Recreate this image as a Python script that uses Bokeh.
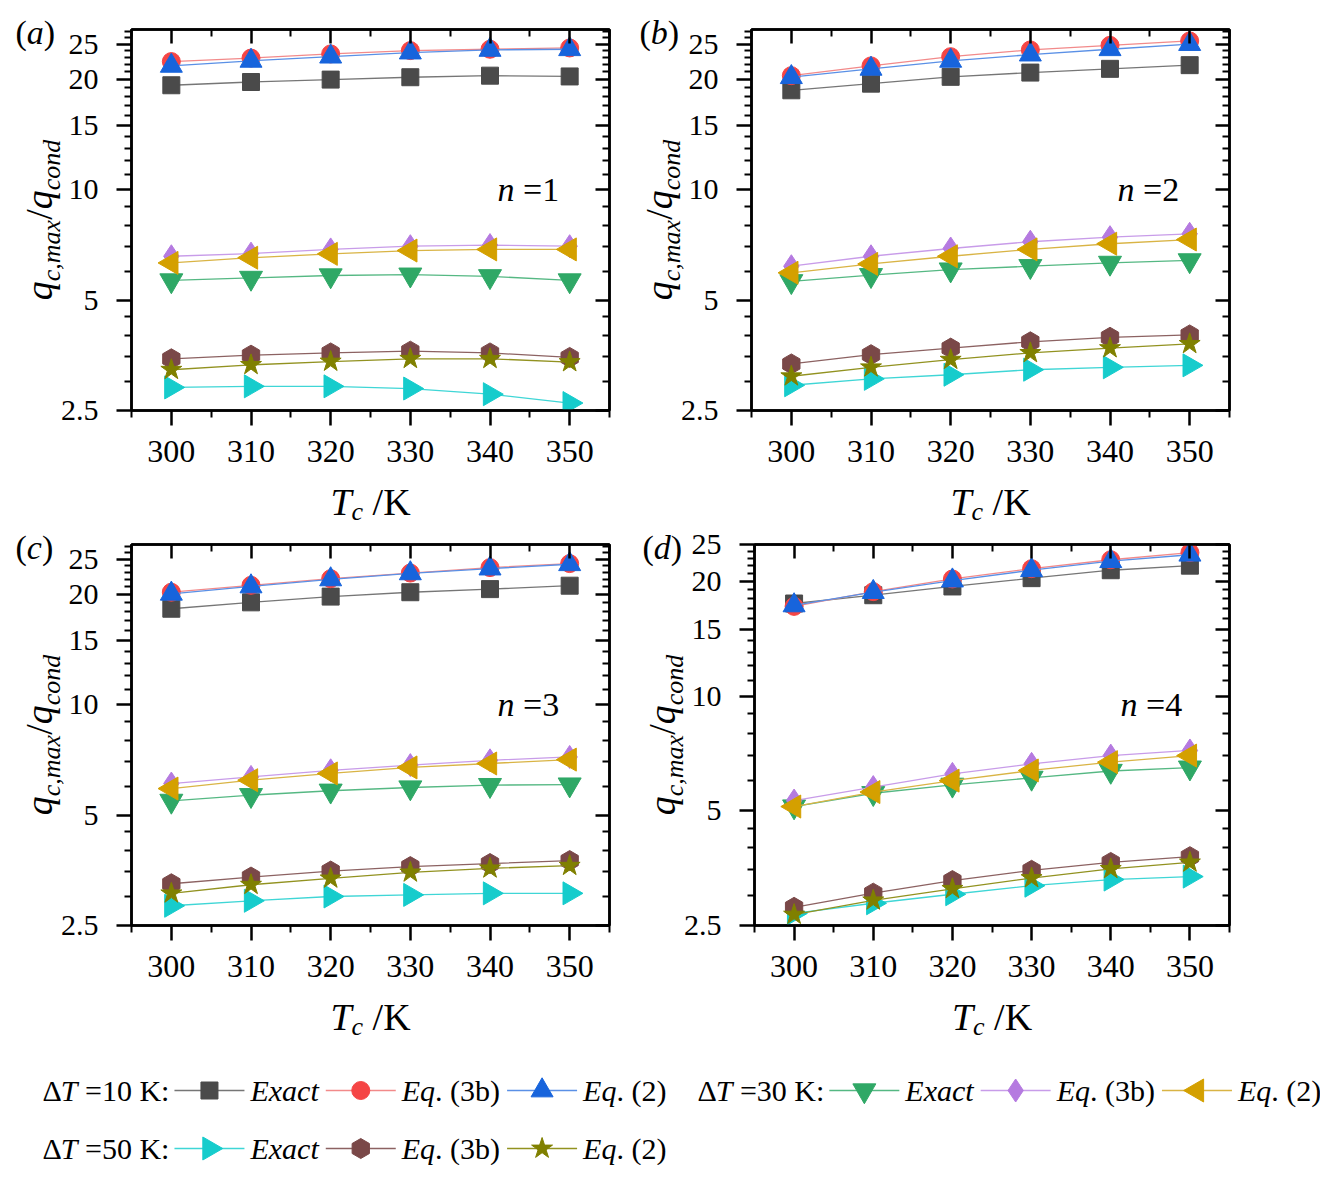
import math
from bokeh.plotting import figure
from bokeh.models import (Range1d, FixedTicker, LinearAxis, LogAxis,
                          NumeralTickFormatter, CustomJSTickFormatter)
from bokeh.layouts import column, row
from bokeh.embed import file_html
from bokeh.resources import INLINE
from bokeh.core.properties import value

# ---------------- data ----------------
Tc = [300, 310, 320, 330, 340, 350]
x_minor = [295, 305, 315, 325, 335, 345, 355]
y_major = [2.5, 5, 10, 15, 20, 25]
y_minor = [3, 3.5, 4, 4.5, 6, 7, 8, 9, 11, 12, 13, 14, 16, 17, 18, 19,
           21, 22, 23, 24, 26, 27]

# (a) n = 1
a_exact10 = [19.3, 19.7, 20.0, 20.3, 20.5, 20.4]
a_eq3b10 = [22.4, 22.9, 23.5, 24.0, 24.2, 24.4]
a_eq2_10 = [21.8, 22.5, 23.1, 23.7, 24.1, 24.2]
a_exact30 = [5.66, 5.75, 5.84, 5.87, 5.81, 5.66]
a_eq3b30 = [6.59, 6.70, 6.88, 7.02, 7.07, 7.02]
a_eq2_30 = [6.32, 6.53, 6.69, 6.83, 6.88, 6.88]
a_exact50 = [2.89, 2.91, 2.91, 2.87, 2.77, 2.62]
a_eq3b50 = [3.46, 3.54, 3.59, 3.63, 3.59, 3.49]
a_eq2_50 = [3.23, 3.33, 3.40, 3.46, 3.46, 3.39]

# (b) n = 2
b_exact10 = [18.7, 19.5, 20.35, 20.9, 21.4, 21.9]
b_eq3b10 = [20.5, 21.8, 23.1, 24.1, 24.8, 25.5]
b_eq2_10 = [20.3, 21.4, 22.5, 23.4, 24.2, 25.0]
b_exact30 = [5.63, 5.85, 6.06, 6.19, 6.32, 6.42]
b_eq3b30 = [6.19, 6.59, 6.92, 7.22, 7.43, 7.59]
b_eq2_30 = [5.94, 6.28, 6.59, 6.88, 7.13, 7.32]
b_exact50 = [2.93, 3.05, 3.13, 3.23, 3.28, 3.32]
b_eq3b50 = [3.35, 3.55, 3.70, 3.85, 3.96, 4.02]
b_eq2_50 = [3.10, 3.28, 3.44, 3.59, 3.70, 3.80]

# (c) n = 3
c_exact10 = [18.3, 19.05, 19.75, 20.3, 20.7, 21.15]
c_eq3b10 = [20.3, 21.2, 22.1, 22.9, 23.7, 24.3]
c_eq2_10 = [20.1, 21.05, 22.0, 22.85, 23.55, 24.2]
c_exact30 = [5.47, 5.67, 5.83, 5.95, 6.04, 6.06]
c_eq3b30 = [6.10, 6.36, 6.63, 6.85, 7.06, 7.21]
c_eq2_30 = [5.91, 6.23, 6.50, 6.75, 6.92, 7.09]
c_exact50 = [2.83, 2.92, 3.00, 3.03, 3.06, 3.06]
c_eq3b50 = [3.25, 3.39, 3.52, 3.62, 3.69, 3.76]
c_eq2_50 = [3.06, 3.23, 3.36, 3.49, 3.58, 3.64]

# (d) n = 4
d_exact10 = [17.5, 18.4, 19.4, 20.4, 21.4, 22.0]
d_eq3b10 = [17.2, 18.8, 20.3, 21.6, 22.8, 23.8]
d_eq2_10 = [17.3, 18.75, 20.1, 21.4, 22.6, 23.5]
d_exact30 = [5.13, 5.56, 5.85, 6.10, 6.36, 6.49]
d_eq3b30 = [5.32, 5.77, 6.25, 6.64, 6.98, 7.20]
d_eq2_30 = [5.13, 5.60, 6.00, 6.38, 6.71, 6.98]
d_exact50 = [2.69, 2.86, 3.02, 3.18, 3.30, 3.36]
d_eq3b50 = [2.79, 3.04, 3.28, 3.49, 3.66, 3.79]
d_eq2_50 = [2.67, 2.91, 3.12, 3.33, 3.52, 3.66]

panel_letters = ["a", "b", "c", "d"]
panel_n = ["1", "2", "3", "4"]
panel_ytop = [27.4, 27.4, 27.4, 25.0]
delta_T = ["10", "30", "50"]
X_LO, X_HI, Y_LO = 295, 355, 2.5

# ---------------- styles ----------------
FONT = "Liberation Serif"
STYLE = [
    dict(marker="square", size=17, angle=0.0, fill="#4a4a4a", line="#767676"),
    dict(marker="circle", size=18, angle=0.0, fill="#f54545", line="#f28a8a"),
    dict(marker="triangle", size=22, angle=0.0, fill="#1764dc", line="#5a90e6"),
    dict(marker="inverted_triangle", size=23, angle=0.0, fill="#2fa866", line="#55b883"),
    dict(marker="diamond", size=23, angle=0.0, fill="#b57ae0", line="#c89ce9"),
    dict(marker="triangle", size=23, angle=math.pi / 2, fill="#d4a000", line="#d9b445"),
    dict(marker="triangle", size=23, angle=-math.pi / 2, fill="#16cccc", line="#3fd6d6"),
    dict(marker="hex", size=20, angle=math.pi / 2, fill="#7a4848", line="#8c6262"),
    dict(marker="star", size=22, angle=0.0, fill="#808000", line="#929220"),
]

W_REG = {' ': 0.25, '(': 0.333, ')': 0.333, ',': 0.25, '.': 0.25, '/': 0.278,
         ':': 0.278, '=': 0.564, 'K': 0.722, 'b': 0.5, 'Δ': 0.612}
W_IT = {'q': 0.5, 'c': 0.444, ',': 0.25, 'm': 0.722, 'a': 0.5, 'x': 0.444,
        'o': 0.5, 'n': 0.5, 'd': 0.5, 'T': 0.556, 'E': 0.611, 't': 0.278,
        'b': 0.5, ' ': 0.25}
MID = 0.3375  # em-box middle above the baseline


def piece_width(txt, italic, size):
    table = W_IT if italic else W_REG
    return sum(table.get(ch, 0.5) for ch in txt) * size


def rich_width(pieces):
    return sum(piece_width(t, it, s) for t, it, s, _ in pieces)


def add_rich(p, pieces, bx, by, to_data, rotated=False):
    """bx, by: baseline start in screen px relative to the frame's
    bottom-left corner (x to the right, y up)."""
    pos = 0.0
    for txt, italic, size, shift in pieces:
        lead = len(txt) - len(txt.lstrip(' '))
        trail = len(txt) - len(txt.rstrip(' '))
        pos += piece_width(' ' * lead, italic, size)
        body = txt.strip(' ')
        if not rotated:
            sx, sy = bx + pos, by + MID * size - shift
        else:
            sx, sy = bx - MID * size + shift, by + pos
        dx, dy = to_data(sx, sy)
        p.text(x=[dx], y=[dy], text=[body], angle=math.pi / 2 if rotated else 0.0,
               text_font=value(FONT),
               text_font_style=value("italic" if italic else "normal"),
               text_font_size=value(f"{size}px"), text_color="black",
               text_align=value("left"), text_baseline=value("middle"),
               level="overlay")
        pos += piece_width(body, italic, size) + piece_width(' ' * trail, italic, size)


def style_axis(ax, outward, label_size=None):
    ax.axis_line_width = 2.5
    ax.axis_line_color = "black"
    ax.major_tick_line_width = 2.5
    ax.minor_tick_line_width = 2
    ax.major_tick_line_color = "black"
    ax.minor_tick_line_color = "black"
    if outward:
        ax.major_tick_out, ax.major_tick_in = 15, 0
        ax.minor_tick_out, ax.minor_tick_in = 7, 0
        ax.major_label_text_font = FONT
        ax.major_label_text_font_size = label_size
        ax.major_label_text_color = "black"
    else:
        ax.major_tick_out, ax.major_tick_in = 0, 14
        ax.minor_tick_out, ax.minor_tick_in = 0, 7
        ax.major_label_standoff = 0
        ax.major_label_text_font_size = "1px"


FRAME_H = 381


def make_panel(idx, series, border_left, frame_w, border_right, border_top, height, n_dy):
    ytop = panel_ytop[idx]
    p = figure(width=border_left + frame_w + border_right, height=height,
               x_range=Range1d(X_LO, X_HI), y_range=Range1d(Y_LO, ytop),
               y_axis_type="log", output_backend="svg", toolbar_location=None,
               min_border_left=border_left, min_border_right=border_right,
               min_border_top=border_top,
               min_border_bottom=height - border_top - FRAME_H)
    p.xgrid.visible = False
    p.ygrid.visible = False
    p.outline_line_color = "black"
    p.outline_line_width = 2.5
    p.background_fill_color = "white"
    p.border_fill_color = "white"

    ymin = [v for v in y_minor if v <= ytop]
    p.xaxis.ticker = FixedTicker(ticks=Tc, minor_ticks=x_minor)
    p.yaxis.ticker = FixedTicker(ticks=y_major, minor_ticks=ymin)
    p.yaxis.formatter = NumeralTickFormatter(format="0.[0]")
    style_axis(p.xaxis[0], True, "32px")
    style_axis(p.yaxis[0], True, "30px")
    p.xaxis.major_label_standoff = 15
    p.yaxis.major_label_standoff = 18

    top = LinearAxis(ticker=FixedTicker(ticks=Tc, minor_ticks=x_minor),
                     formatter=CustomJSTickFormatter(code="return ''"))
    style_axis(top, False)
    p.add_layout(top, "above")
    right = LogAxis(ticker=FixedTicker(ticks=y_major, minor_ticks=ymin),
                    formatter=CustomJSTickFormatter(code="return ''"))
    style_axis(right, False)
    p.add_layout(right, "right")

    for st, ys in zip(STYLE, series):
        p.line(Tc, ys, line_color=st["line"], line_width=1.3)
        p.scatter(Tc, ys, marker=st["marker"], size=st["size"], angle=st["angle"],
                  fill_color=st["fill"], line_color=st["fill"], line_width=1)

    def to_data(sx, sy):
        return (X_LO + sx * (X_HI - X_LO) / frame_w,
                Y_LO * (ytop / Y_LO) ** (sy / FRAME_H))

    # panel letter
    letter = panel_letters[idx]
    add_rich(p, [("(", False, 34, 0), (letter, True, 34, 0), (")", False, 34, 0)],
             -116 if idx % 2 == 0 else -112, FRAME_H - 14, to_data)
    # y label (rotated)
    ylab = [("q", True, 38, 0), ("c,max", True, 26, 9), ("/", False, 38, 0),
            ("q", True, 38, 0), ("cond", True, 26, 9)]
    add_rich(p, ylab, -80, FRAME_H / 2 - rich_width(ylab) / 2, to_data, rotated=True)
    # x label
    xlab = [("T", True, 38, 0), ("c", True, 26, 6), (" /K", False, 38, 0)]
    add_rich(p, xlab, frame_w / 2 - rich_width(xlab) / 2, -104, to_data)
    # n label, centred near the y = 10 level
    ny = (math.log10(10) - math.log10(Y_LO)) / (math.log10(ytop) - math.log10(Y_LO)) * FRAME_H
    add_rich(p, [("n", True, 34, 0), (" =" + panel_n[idx], False, 34, 0)],
             366, ny - 11 + n_dy, to_data)
    return p


def panel_series(prefix):
    g = globals()
    names = ["exact10", "eq3b10", "eq2_10", "exact30", "eq3b30", "eq2_30",
             "exact50", "eq3b50", "eq2_50"]
    return [g[f"{prefix}_{n}"] for n in names]


pa = make_panel(0, panel_series("a"), 131, 478, 19, 29, 526, 0)
pb = make_panel(1, panel_series("b"), 123, 478, 91, 29, 526, 0)
pc = make_panel(2, panel_series("c"), 131, 478, 19, 18, 515, 0)
pd = make_panel(3, panel_series("d"), 126, 475, 91, 18, 515, -9)

# ---------------- legend ----------------
LEG_W, LEG_H = 1320, 124
leg = figure(width=LEG_W, height=LEG_H, x_range=Range1d(0, LEG_W), y_range=Range1d(0, LEG_H),
             output_backend="svg", toolbar_location=None, min_border=0, title=None,
             x_axis_location=None, y_axis_location=None, outline_line_color=None)
leg.xgrid.visible = False
leg.ygrid.visible = False
leg.background_fill_color = "white"
leg.border_fill_color = "white"


def ident(sx, sy):
    return sx, sy


LS = 30
item_labels = [
    [("Exact", True, LS, 0)],
    [("Eq", True, LS, 0), (". (3b)", False, LS, 0)],
    [("Eq", True, LS, 0), (". (2)", False, LS, 0)],
]
rows_layout = [[0, 1], [2]]
row_centers = [LEG_H - 49, LEG_H - 107]
for r, groups in enumerate(rows_layout):
    cy = row_centers[r]
    base = cy - MID * LS
    x = 42
    for g in groups:
        glab = [("Δ", False, LS, 0), ("T", True, LS, 0), (f" ={delta_T[g]} K:", False, LS, 0)]
        add_rich(leg, glab, x, base, ident)
        x += rich_width(glab) + 5
        for k in range(3):
            st = STYLE[g * 3 + k]
            leg.line([x, x + 70], [cy, cy], line_color=st["line"], line_width=1.3)
            leg.scatter([x + 35], [cy], marker=st["marker"], size=st["size"], angle=st["angle"],
                        fill_color=st["fill"], line_color=st["fill"], line_width=1)
            x += 70 + 6
            add_rich(leg, item_labels[k], x, base, ident)
            x += rich_width(item_labels[k]) + 7
        x += 24

layout = column(row(pa, pb), row(pc, pd), leg)
open("out.html", "w").write(file_html(layout, INLINE))
